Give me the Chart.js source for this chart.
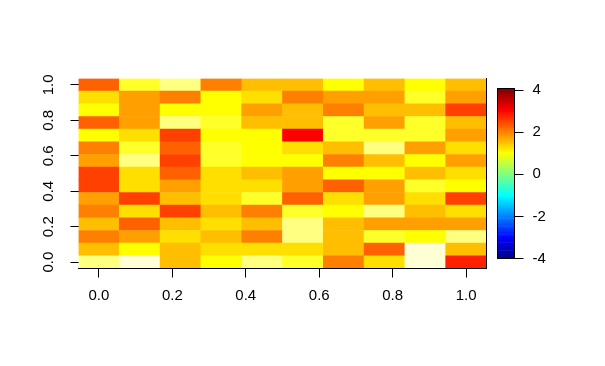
<!DOCTYPE html>
<html>
<head>
<meta charset="utf-8">
<script src="https://cdn.jsdelivr.net/npm/chart.js@4.4.1/dist/chart.umd.min.js"></script>
<style>
  html, body { margin: 0; padding: 0; background: #fff; }
  #wrap { position: relative; width: 605px; height: 366px; }
  #wrap canvas { position: absolute; left: 0; top: 0; }
</style>
</head>
<body>
<div id="wrap">
  <canvas id="heat" width="605" height="366"></canvas>
  <canvas id="legend" width="605" height="366"></canvas>
</div>
<script>
// grid centres (image() on a 10 x 15 grid over [0,1] x [0,1])
const xCenters = [0, 1/9, 2/9, 3/9, 4/9, 5/9, 6/9, 7/9, 8/9, 1];
const yCenters = [0, 1/14, 2/14, 3/14, 4/14, 5/14, 6/14, 7/14, 8/14, 9/14, 10/14, 11/14, 12/14, 13/14, 1];

// colour level of each cell (index into heat.colors(12)), rows listed from top (y = 1.0) to bottom (y = 0.0)
const zLevels = [
  [3, 9, 10, 4, 6, 6, 8, 6, 8, 6],
  [7, 5, 4, 8, 7, 4, 5, 5, 9, 5],
  [8, 5, 8, 8, 5, 6, 4, 6, 6, 2],
  [3, 5, 10, 9, 6, 6, 9, 5, 9, 6],
  [8, 7, 2, 8, 8, 0, 9, 9, 9, 5],
  [4, 9, 3, 9, 8, 7, 6, 10, 5, 7],
  [5, 10, 2, 9, 8, 8, 4, 6, 8, 5],
  [2, 7, 3, 7, 6, 5, 8, 8, 6, 7],
  [2, 7, 5, 7, 7, 5, 3, 5, 9, 8],
  [5, 2, 6, 7, 9, 3, 7, 5, 7, 2],
  [4, 7, 2, 6, 4, 9, 8, 10, 6, 7],
  [6, 3, 6, 7, 6, 10, 6, 5, 5, 5],
  [4, 5, 7, 6, 4, 10, 6, 9, 8, 10],
  [6, 8, 6, 7, 7, 7, 6, 3, 11, 6],
  [10, 11, 6, 8, 10, 9, 4, 7, 11, 1]
];

const xTicks = [0, 0.2, 0.4, 0.6, 0.8, 1.0];
const yTicks = [0, 0.2, 0.4, 0.6, 0.8, 1.0];

// colour bar of the legend
const legendMin = -4.0;
const legendMax = 4.1;
const legendTicks = [-4, -2, 0, 2, 4];

const heatColors = ['#FF0000', '#FF2000', '#FF4000', '#FF6000', '#FF8000', '#FF9F00',
  '#FFBF00', '#FFDF00', '#FFFF00', '#FFFF2A', '#FFFF80', '#FFFFD5'];

const timColors = ['#00008F', '#00009F', '#0000AF', '#0000BF', '#0000CF', '#0000DF', '#0000EF', '#0000FF',
  '#0010FF', '#0020FF', '#0030FF', '#0040FF', '#0050FF', '#0060FF', '#0070FF', '#0080FF',
  '#008FFF', '#009FFF', '#00AFFF', '#00BFFF', '#00CFFF', '#00DFFF', '#00EFFF', '#00FFFF',
  '#10FFEF', '#20FFDF', '#30FFCF', '#40FFBF', '#50FFAF', '#60FF9F', '#70FF8F', '#80FF80',
  '#8FFF70', '#9FFF60', '#AFFF50', '#BFFF40', '#CFFF30', '#DFFF20', '#EFFF10', '#FFFF00',
  '#FFEF00', '#FFDF00', '#FFCF00', '#FFBF00', '#FFAF00', '#FF9F00', '#FF8F00', '#FF8000',
  '#FF7000', '#FF6000', '#FF5000', '#FF4000', '#FF3000', '#FF2000', '#FF1000', '#FF0000',
  '#EF0000', '#DF0000', '#CF0000', '#BF0000', '#AF0000', '#9F0000', '#8F0000', '#800000'];

Chart.defaults.font.family = "'Liberation Sans', Arial, sans-serif";
Chart.defaults.font.size = 15;
Chart.defaults.color = '#000';

const halfW = 1 / 18;
const halfH = 1 / 28;

const cells = [];
const cellColors = [];
zLevels.forEach((row, r) => {
  const yc = yCenters[yCenters.length - 1 - r];
  row.forEach((lvl, c) => {
    cells.push({ x: xCenters[c], y: [yc - halfH, yc + halfH] });
    cellColors.push(heatColors[lvl]);
  });
});

const tickGrid = (len) => ({
  display: true, drawOnChartArea: false, drawTicks: true,
  tickLength: len, color: '#000', lineWidth: 1, offset: false
});

new Chart(document.getElementById('heat'), {
  type: 'bar',
  data: {
    datasets: [{
      data: cells,
      backgroundColor: cellColors,
      borderWidth: 0,
      barPercentage: 1,
      categoryPercentage: 1,
      grouped: false
    }]
  },
  options: {
    responsive: false,
    animation: false,
    events: [],
    layout: { padding: { top: 78.5, right: 118.5, bottom: 0, left: 0 } },
    plugins: { legend: { display: false }, tooltip: { enabled: false } },
    scales: {
      x: {
        type: 'linear',
        min: -halfW, max: 1 + halfW,
        offset: false,
        afterBuildTicks: (s) => { s.ticks = xTicks.map(v => ({ value: v })); },
        afterFit: (s) => { s.height = 97.5; },
        grid: tickGrid(9),
        border: { display: true, color: '#000', width: 1, z: 1 },
        ticks: { padding: 9, maxRotation: 0, autoSkip: false, callback: (v) => Number(v).toFixed(1) }
      },
      y: {
        type: 'linear',
        min: -halfH, max: 1 + halfH,
        afterBuildTicks: (s) => { s.ticks = yTicks.map(v => ({ value: v })); },
        afterFit: (s) => { s.width = 78.5; },
        grid: tickGrid(8),
        border: { display: false },
        ticks: { padding: 11, minRotation: 90, maxRotation: 90, crossAlign: 'center', autoSkip: false,
          callback: (v) => Number(v).toFixed(1) }
      },
      yr: {
        type: 'linear',
        position: 'right',
        min: -halfH, max: 1 + halfH,
        afterFit: (s) => { s.width = 0; },
        grid: { display: false },
        ticks: { display: false },
        border: { display: true, color: '#000', width: 1, z: 1 }
      }
    }
  }
});

const levelStep = (legendMax - legendMin) / timColors.length;
const legendSets = timColors.map((col, i) => ({
  data: [[legendMin + i * levelStep, legendMin + (i + 1) * levelStep]],
  backgroundColor: col,
  borderWidth: 0,
  barPercentage: 1,
  categoryPercentage: 1,
  grouped: false
}));

const frame = {
  id: 'frame',
  afterDatasetsDraw(chart) {
    const a = chart.chartArea;
    const ctx = chart.ctx;
    ctx.save();
    ctx.strokeStyle = '#000';
    ctx.lineWidth = 1;
    ctx.strokeRect(Math.round(a.left) + 0.5, Math.round(a.top) + 0.5,
      Math.round(a.right - a.left) - 1, Math.round(a.bottom - a.top) - 1);
    ctx.restore();
  }
};

new Chart(document.getElementById('legend'), {
  type: 'bar',
  data: { labels: [''], datasets: legendSets },
  options: {
    responsive: false,
    animation: false,
    events: [],
    layout: { padding: { top: 88, right: 30.5, bottom: 107.5, left: 497 } },
    plugins: { legend: { display: false }, tooltip: { enabled: false } },
    scales: {
      x: { display: false },
      y: {
        type: 'linear',
        position: 'right',
        min: legendMin, max: legendMax,
        afterBuildTicks: (s) => { s.ticks = legendTicks.map(v => ({ value: v })); },
        afterFit: (s) => { s.width = 60; },
        grid: tickGrid(9),
        border: { display: false },
        ticks: { padding: 9, autoSkip: false, callback: (v) => String(v) }
      }
    }
  },
  plugins: [frame]
});
</script>
</body>
</html>
